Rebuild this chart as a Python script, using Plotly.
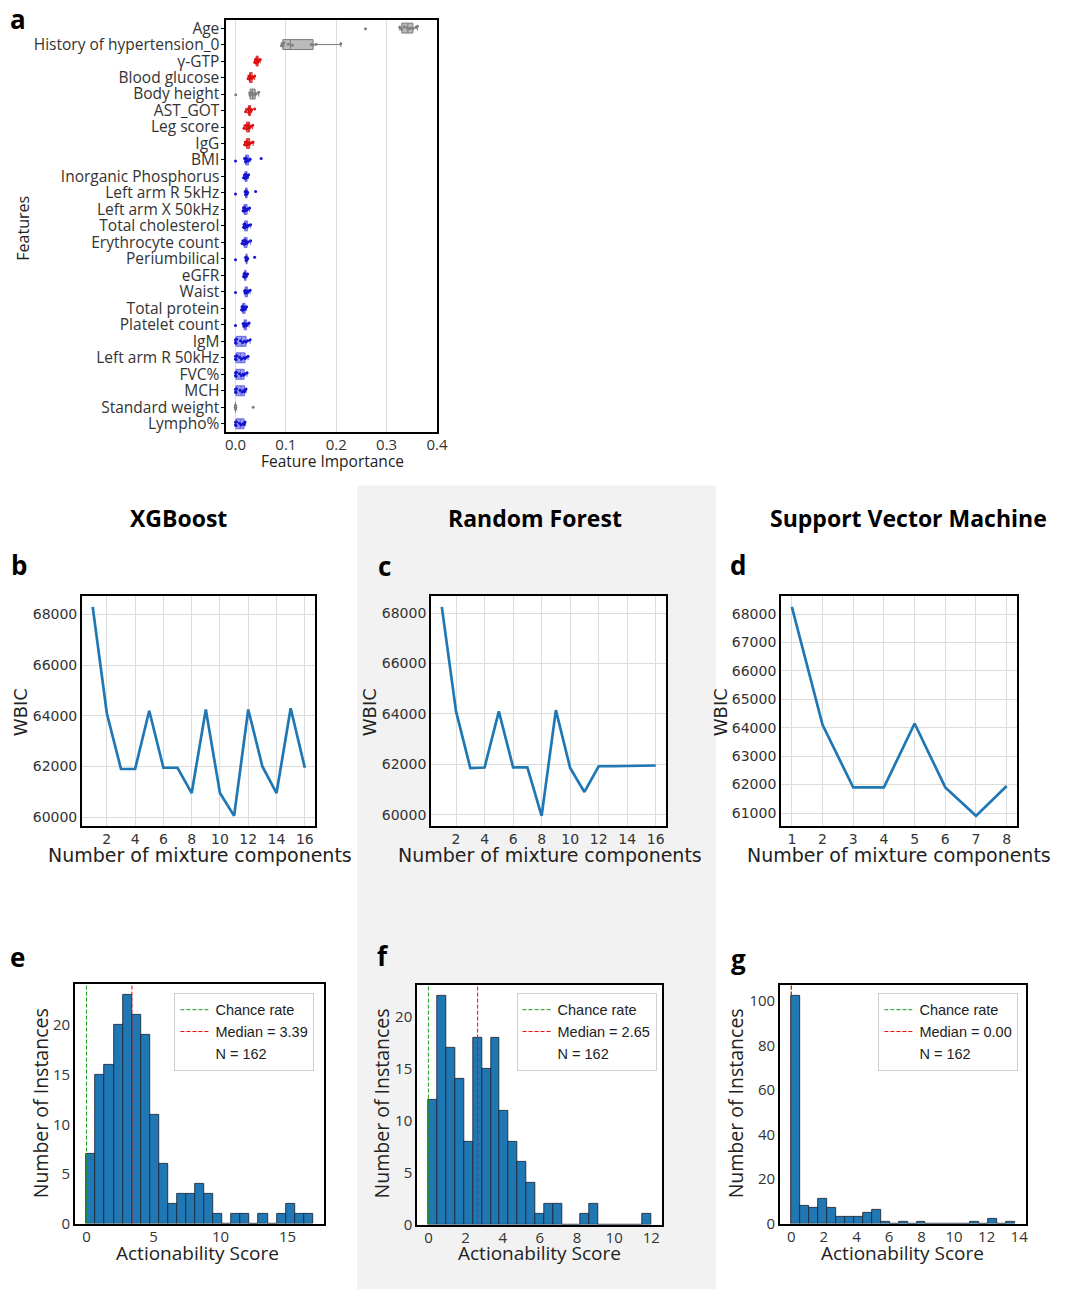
import plotly.graph_objects as go

W, H = 1065, 1298

# ---------------- Data ----------------
features = ["Age", "History of hypertension_0", "γ-GTP", "Blood glucose", "Body height",
            "AST_GOT", "Leg score", "IgG", "BMI", "Inorganic Phosphorus", "Left arm R 5kHz",
            "Left arm X 50kHz", "Total cholesterol", "Erythrocyte count", "Periumbilical",
            "eGFR", "Waist", "Total protein", "Platelet count", "IgM", "Left arm R 50kHz",
            "FVC%", "MCH", "Standard weight", "Lympho%"]
feature_group = ["gray", "gray", "red", "red", "gray", "red", "red", "red", "blue", "blue",
                 "blue", "blue", "blue", "blue", "blue", "blue", "blue", "blue", "blue", "blue",
                 "blue", "blue", "blue", "gray", "blue"]
importance_samples = [
    [0.258, 0.326, 0.330, 0.335, 0.340, 0.344, 0.348, 0.352, 0.358, 0.361],
    [0.091, 0.093, 0.094, 0.096, 0.105, 0.113, 0.150, 0.154, 0.160, 0.209],
    [0.038, 0.040, 0.041, 0.042, 0.043, 0.043, 0.044, 0.045, 0.046, 0.049],
    [0.025, 0.027, 0.028, 0.029, 0.030, 0.030, 0.031, 0.033, 0.035, 0.038],
    [0.0005, 0.028, 0.029, 0.031, 0.033, 0.035, 0.037, 0.039, 0.040, 0.046],
    [0.020, 0.024, 0.026, 0.027, 0.028, 0.028, 0.029, 0.030, 0.032, 0.038],
    [0.017, 0.020, 0.022, 0.024, 0.025, 0.026, 0.027, 0.028, 0.030, 0.034],
    [0.018, 0.020, 0.022, 0.023, 0.025, 0.025, 0.026, 0.028, 0.031, 0.035],
    [0.0, 0.018, 0.020, 0.021, 0.022, 0.023, 0.024, 0.026, 0.029, 0.051],
    [0.016, 0.018, 0.019, 0.020, 0.021, 0.021, 0.022, 0.023, 0.024, 0.026],
    [0.0, 0.019, 0.020, 0.021, 0.022, 0.022, 0.023, 0.023, 0.024, 0.040],
    [0.015, 0.016, 0.017, 0.018, 0.019, 0.020, 0.021, 0.023, 0.025, 0.028],
    [0.016, 0.017, 0.018, 0.019, 0.020, 0.021, 0.022, 0.024, 0.026, 0.030],
    [0.013, 0.015, 0.017, 0.019, 0.020, 0.021, 0.022, 0.023, 0.025, 0.030],
    [0.0, 0.020, 0.021, 0.021, 0.022, 0.022, 0.023, 0.023, 0.024, 0.038],
    [0.016, 0.017, 0.018, 0.019, 0.019, 0.020, 0.020, 0.021, 0.022, 0.024],
    [0.0, 0.018, 0.019, 0.020, 0.021, 0.022, 0.023, 0.024, 0.026, 0.029],
    [0.012, 0.013, 0.014, 0.015, 0.016, 0.017, 0.018, 0.019, 0.020, 0.022],
    [0.0, 0.015, 0.017, 0.018, 0.019, 0.020, 0.021, 0.022, 0.024, 0.027],
    [0.0, 0.0, 0.001, 0.002, 0.010, 0.014, 0.018, 0.021, 0.024, 0.029],
    [0.0, 0.0, 0.001, 0.003, 0.008, 0.012, 0.016, 0.019, 0.021, 0.025],
    [0.0, 0.0, 0.001, 0.002, 0.008, 0.012, 0.015, 0.017, 0.019, 0.023],
    [0.0, 0.0, 0.001, 0.002, 0.009, 0.013, 0.016, 0.018, 0.019, 0.021],
    [0.0, 0.0, 0.0, 0.0, 0.0, 0.0, 0.0, 0.0, 0.0, 0.035],
    [0.0, 0.0, 0.001, 0.002, 0.008, 0.011, 0.015, 0.017, 0.018, 0.019],
]

n_components_16 = list(range(1, 17))
wbic_xgb = [68300, 64100, 61900, 61900, 64200, 61950, 61950, 60950,
            64250, 60950, 60050, 64250, 62000, 60950, 64300, 61950]
wbic_rf = [68250, 64100, 61850, 61870, 64100, 61880, 61880, 59950,
           64150, 61850, 60900, 61920, 61920, 61920, 61930, 61950]
n_components_8 = list(range(1, 9))
wbic_svm = [68250, 64100, 61900, 61900, 64150, 61900, 60900, 61950]

hist_counts_xgb = [7, 15, 16, 20, 23, 21, 19, 11, 6, 2, 3, 3, 4, 3, 1, 0, 1, 1, 0, 1, 0, 1, 2, 1, 1]
hist_counts_rf = [12, 22, 17, 14, 8, 18, 15, 18, 11, 8, 6, 4, 1, 2, 2, 0, 0, 1, 2, 0, 0, 0, 0, 0, 1]
hist_counts_svm = [102, 8, 7, 11, 7, 3, 3, 3, 5, 6, 1, 0, 1, 0, 1, 0, 0, 0, 0, 0, 1, 0, 2, 0, 1]
score_max_xgb, score_max_rf, score_max_svm = 16.9, 12.0, 13.75
median_xgb, median_rf, median_svm = 3.39, 2.65, 0.00
chance_rate = 0.0
n_total = 162

# ---------------- Helpers ----------------
TEXTFONT = "Open Sans"
MPLFONT = "DejaVu Sans"
LEGFONT = "Liberation Sans"
BOLDFONT = "Open Sans"


def px_x(px):
    return px / W


def px_y(py):
    return 1 - py / H


fig = go.Figure()

group_style = {
    "gray": dict(fill="rgba(175,175,175,0.85)", line="#7a7a7a", marker="#808080"),
    "red": dict(fill="rgba(235,90,90,0.55)", line="#d03030", marker="#e01010"),
    "blue": dict(fill="rgba(120,120,240,0.75)", line="#6a6ae0", marker="#1414d0"),
}

# Panel a: box plots
for feat, grp, vals in zip(features, feature_group, importance_samples):
    st = group_style[grp]
    fig.add_trace(go.Box(
        x=vals, y=[feat] * len(vals), orientation="h", xaxis="x", yaxis="y",
        boxpoints="all", jitter=0.5, pointpos=0,
        marker=dict(color=st["marker"], size=3),
        line=dict(color=st["line"], width=1), fillcolor=st["fill"],
        width=0.6, whiskerwidth=0.5, showlegend=False))

# Panels b, c, d: line plots
for xs, ys, ax in [(n_components_16, wbic_xgb, "2"), (n_components_16, wbic_rf, "3"),
                   (n_components_8, wbic_svm, "4")]:
    fig.add_trace(go.Scatter(x=xs, y=ys, mode="lines", line=dict(color="#1f77b4", width=2.7),
                             xaxis="x" + ax, yaxis="y" + ax, showlegend=False))

# Panels e, f, g: histograms
hist_specs = [
    (hist_counts_xgb, score_max_xgb, median_xgb, "5", "legend"),
    (hist_counts_rf, score_max_rf, median_rf, "6", "legend2"),
    (hist_counts_svm, score_max_svm, median_svm, "7", "legend3"),
]
for counts, smax, med, ax, leg in hist_specs:
    nb = len(counts)
    bw = smax / nb
    centers = [(i + 0.5) * bw for i in range(nb)]
    ytop = max(counts) * 1.05
    fig.add_trace(go.Bar(x=centers, y=counts, width=bw, xaxis="x" + ax, yaxis="y" + ax,
                         marker=dict(color="#1f77b4", line=dict(color="#1c2a3a", width=0.9)),
                         showlegend=False))
    fig.add_trace(go.Scatter(x=[chance_rate, chance_rate], y=[0, ytop], mode="lines",
                             line=dict(color="#1a9a1a", width=1, dash="4px,2px"),
                             name="Chance rate", xaxis="x" + ax, yaxis="y" + ax, legend=leg))
    fig.add_trace(go.Scatter(x=[med, med], y=[0, ytop], mode="lines",
                             line=dict(color="red", width=1, dash="4px,2px"),
                             name=f"Median = {med:.2f}", xaxis="x" + ax, yaxis="y" + ax, legend=leg))
    fig.add_trace(go.Scatter(x=[med], y=[0], mode="lines",
                             line=dict(color="rgba(0,0,0,0)", width=1),
                             name=f"N = {n_total}", xaxis="x" + ax, yaxis="y" + ax, legend=leg))

# ---------------- Axes ----------------
base_axis = dict(showline=True, mirror=True, linecolor="black", linewidth=2, ticks="",
                 zeroline=False, tickfont=dict(family=TEXTFONT, size=15, color="#333333"))
mpl_axis = dict(base_axis, tickfont=dict(family=MPLFONT, size=14, color="#333333"))


def dom_x(x0, x1):
    return [px_x(x0), px_x(x1)]


def dom_y(y0, y1):
    return [px_y(y1), px_y(y0)]


layout = dict(
    width=W, height=H, margin=dict(l=0, r=0, t=0, b=0),
    paper_bgcolor="white", plot_bgcolor="white", showlegend=True, bargap=0,
)

# panel a
layout["xaxis"] = dict(base_axis, domain=dom_x(228, 441), anchor="y", range=[-0.018, 0.4],
                       tickvals=[0, 0.1, 0.2, 0.3, 0.4], ticktext=["0.0", "0.1", "0.2", "0.3", "0.4"],
                       showgrid=True, gridcolor="#dddddd", gridwidth=1, ticklabelstandoff=-2,
                       tickfont=dict(family=TEXTFONT, size=15, color="#333333"))
layout["yaxis"] = dict(base_axis, domain=dom_y(17, 433), anchor="x", type="category",
                       categoryarray=features, tickmode="array", tickvals=features, ticktext=features,
                       range=[len(features) - 0.5, -0.5],
                       ticks="outside", ticklen=3, tickcolor="black", showgrid=False,
                       ticklabelstandoff=-1,
                       tickfont=dict(family=TEXTFONT, size=15.5, color="#333333"))

line_panels = [
    ("2", (82, 318), [0.25, 16.75], list(range(2, 17, 2)), [59637, 68712], list(range(60000, 68001, 2000))),
    ("3", (435, 673), [0.25, 16.75], list(range(2, 17, 2)), [59535, 68665], list(range(60000, 68001, 2000))),
    ("4", (789, 1028), [0.65, 8.35], list(range(1, 9)), [60532, 68617], list(range(61000, 68001, 1000))),
]
for ax, (x0, x1), xr, xt, yr, yt in line_panels:
    layout["xaxis" + ax] = dict(mpl_axis, domain=dom_x(x0, x1), anchor="y" + ax, range=xr,
                                tickvals=xt, showgrid=True, gridcolor="#dcdcdc", ticklabelstandoff=-1)
    layout["yaxis" + ax] = dict(mpl_axis, domain=dom_y(599, 831), anchor="x" + ax, range=yr,
                                tickvals=yt, ticktext=[str(v) for v in yt],
                                showgrid=True, gridcolor="#dcdcdc")

hist_panels = [
    ("5", (75, 327), (990, 1232), score_max_xgb, [0, 5, 10, 15], hist_counts_xgb, [0, 5, 10, 15, 20]),
    ("6", (421, 669), (991, 1233), score_max_rf, list(range(0, 13, 2)), hist_counts_rf, [0, 5, 10, 15, 20]),
    ("7", (788, 1037), (991, 1232), score_max_svm, list(range(0, 15, 2)), hist_counts_svm, [0, 20, 40, 60, 80, 100]),
]
for ax, (x0, x1), (y0, y1), smax, xt, counts, yt in hist_panels:
    layout["xaxis" + ax] = dict(base_axis, domain=dom_x(x0, x1), anchor="y" + ax,
                                range=[-0.05 * smax, 1.05 * smax], tickvals=xt, showgrid=False,
                                ticklabelstandoff=-2)
    layout["yaxis" + ax] = dict(base_axis, domain=dom_y(y0, y1), anchor="x" + ax,
                                range=[0, max(counts) * 1.05], tickvals=yt, showgrid=False)

legend_style = dict(bgcolor="white", bordercolor="#d0d0d0", borderwidth=1,
                    font=dict(family=LEGFONT, size=14.5, color="#222222"),
                    xanchor="right", yanchor="top", xref="paper", yref="paper",
                    tracegroupgap=0, itemwidth=30)
layout["legend"] = dict(legend_style, x=px_x(317), y=px_y(999))
layout["legend2"] = dict(legend_style, x=px_x(663), y=px_y(999))
layout["legend3"] = dict(legend_style, x=px_x(1029), y=px_y(999))

fig.update_layout(**layout)

# ---------------- Background shapes ----------------
fig.add_shape(type="rect", xref="paper", yref="paper", x0=px_x(360), x1=px_x(723),
              y0=0, y1=px_y(487), fillcolor="#f2f2f2", line=dict(width=0), layer="below")
fig.add_shape(type="rect", xref="x3 domain", yref="y3 domain", x0=0, x1=1, y0=0, y1=1,
              fillcolor="white", line=dict(width=0), layer="below")
fig.add_shape(type="rect", xref="x6 domain", yref="y6 domain", x0=0, x1=1, y0=0, y1=1,
              fillcolor="white", line=dict(width=0), layer="below")

# ---------------- Text annotations ----------------


def ann(text, px, py, size, family=TEXTFONT, bold=False, rot=0, color="#222222", xanchor="center"):
    if bold:
        text = "<b>" + text + "</b>"
    fig.add_annotation(text=text, x=px_x(px), y=px_y(py), xref="paper", yref="paper",
                       showarrow=False, textangle=rot, xanchor=xanchor, yanchor="middle",
                       font=dict(family=family, size=size, color=color))


# panel letters
for letter, lx, ly in [("a", 17, 16), ("b", 18, 567), ("c", 388, 568), ("d", 745, 567),
                       ("e", 17, 963), ("f", 386, 962), ("g", 746, 965)]:
    ann(letter, lx, ly, 26, family=BOLDFONT, bold=True, color="black")

# column titles
ann("XGBoost", 180, 520, 23, family=BOLDFONT, bold=True, color="black")
ann("Random Forest", 540, 520, 23, family=BOLDFONT, bold=True, color="black")
ann("Support Vector Machine", 918, 520, 23, family=BOLDFONT, bold=True, color="black")

# panel a axis titles
ann("Features", 22, 227, 16, rot=-90)
ann("Feature Importance", 335, 462, 15.5)

# line panels
for cx, wx in [(201, 20), (555, 373), (908, 728)]:
    ann("WBIC", wx, 716, 18, family=MPLFONT, rot=-90)
    ann("Number of mixture components", cx, 860, 19, family=MPLFONT)

# histogram panels
for cx, wx in [(199, 40), (545, 385), (912, 743)]:
    ann("Number of Instances", wx, 1111, 19.5, rot=-90)
    ann("Actionability Score", cx, 1262, 19)

fig.write_html("out.html")
